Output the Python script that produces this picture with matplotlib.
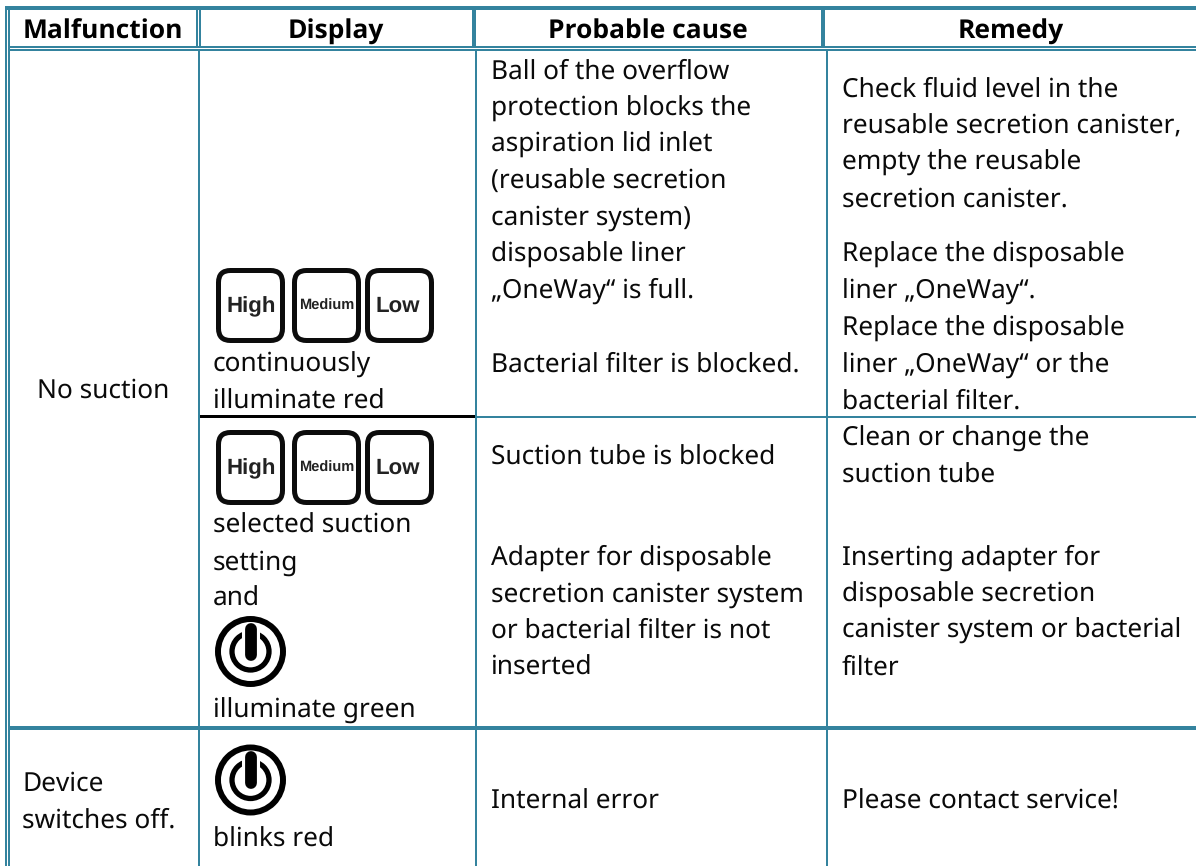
import matplotlib
matplotlib.use('Agg')
import matplotlib.pyplot as plt
from matplotlib.patches import FancyBboxPatch, Circle

TEAL = '#34839E'
PITCH = 36.5

headers = ['Malfunction', 'Display', 'Probable cause', 'Remedy']
header_x = [103, 336, 648, 1011]

malfunction = ['No suction', 'Device\nswitches off.']
malfunction_pos = [(37, 398), (22, 791)]

display_text = ['continuously\nilluminate red', 'selected suction\nsetting\nand',
                'illuminate green', 'blinks red']
display_pos = [(213, 372), (213, 533), (213, 718), (213, 847)]

cause_text = ['Ball of the overflow\nprotection blocks the\naspiration lid inlet\n(reusable secretion\ncanister system)\ndisposable liner\n„OneWay“ is full.',
              'Bacterial filter is blocked.', 'Suction tube is blocked',
              'Adapter for disposable\nsecretion canister system\nor bacterial filter is not\ninserted',
              'Internal error']
cause_pos = [(491, 79), (491, 372), (491, 465), (491, 565), (491, 809)]

remedy_text = ['Check fluid level in the\nreusable secretion canister,\nempty the reusable\nsecretion canister.',
               'Replace the disposable\nliner „OneWay“.',
               'Replace the disposable\nliner „OneWay“ or the\nbacterial filter.',
               'Clean or change the\nsuction tube',
               'Inserting adapter for\ndisposable secretion\ncanister system or bacterial\nfilter',
               'Please contact service!']
remedy_pos = [(842, 97), (842, 262), (842, 336), (842, 446), (842, 565), (842, 809)]

key_labels = ['High', 'Medium', 'Low']
key_left = [216, 292, 365]
key_centre = [251, 327, 398]
key_fs = [16, 10.5, 16]
key_base = [44, 42, 44]
key_tops = [268, 430]
power_centres = [(250.5, 651.5), (250.5, 780)]

plt.rcParams['font.family'] = ['Noto Sans', 'DejaVu Sans']
plt.rcParams['text.hinting'] = 'none'
fig = plt.figure(figsize=(11.96, 8.66), dpi=100)
ax = fig.add_axes([0, 0, 1, 1])
ax.set_xlim(0, 1196)
ax.set_ylim(866, 0)
ax.axis('off')


def hline(y, x0, x1, lw, color=TEAL):
    ax.fill_between([x0, x1], y - lw / 2, y + lw / 2, color=color, lw=0)


def vline(x, y0, y1, lw, color=TEAL):
    ax.fill_betweenx([y0, y1], x - lw / 2, x + lw / 2, color=color, lw=0)


# table rules
hline(8, 5, 1196, 4)
hline(47, 8, 1196, 2)
hline(50, 8, 1196, 2)
hline(728, 8, 1196, 4)
hline(417, 476, 1196, 2)
hline(416.5, 198, 476, 2.5, 'black')
vline(6, 6, 866, 2)
vline(9, 6, 866, 2)
vline(197, 8, 47, 2)
vline(200, 8, 47, 2)
vline(199, 50, 866, 2)
vline(474, 8, 47, 4)
vline(476, 50, 866, 2)
vline(823, 8, 47, 4)
vline(827, 50, 866, 2)

# the installed Noto Sans shows no bold, so the header row uses Open Sans
for t, x in zip(headers, header_x):
    ax.text(x, 39, t, fontsize=19, fontweight='bold', family='Open Sans',
            ha='center', va='baseline', color='black')

body = malfunction, display_text, cause_text, remedy_text
poss = malfunction_pos, display_pos, cause_pos, remedy_pos
for texts, pos in zip(body, poss):
    for t, (x, y) in zip(texts, pos):
        for i, line in enumerate(t.split('\n')):
            ax.text(x, y + i * PITCH, line, fontsize=18.9, ha='left', va='baseline', color='#0a0a0a')

# key icons
for top in key_tops:
    for left, cx, lab, fs, base in zip(key_left, key_centre, key_labels, key_fs, key_base):
        ax.add_patch(FancyBboxPatch((left + 2.5, top + 2.5), 64, 70,
                                    boxstyle='round,pad=0,rounding_size=12',
                                    fc='white', ec='#0c0c0c', lw=3.6))
        ax.text(cx, top + base, lab, fontsize=fs, fontweight='bold', family='Liberation Sans',
                ha='center', va='baseline', color='#222222')

# power icons
for cx, cy in power_centres:
    ax.add_patch(Circle((cx, cy), 32.5, fc='none', ec='black', lw=4.3))
    ax.add_patch(Circle((cx, cy), 18.5, fc='none', ec='black', lw=3.8))
    ax.plot([cx, cx], [cy - 26, cy + 5], color='white', lw=13, solid_capstyle='butt')
    ax.plot([cx, cx], [cy - 23, cy + 3], color='black', lw=8.5, solid_capstyle='round')

fig.savefig('out.png', dpi=100)
